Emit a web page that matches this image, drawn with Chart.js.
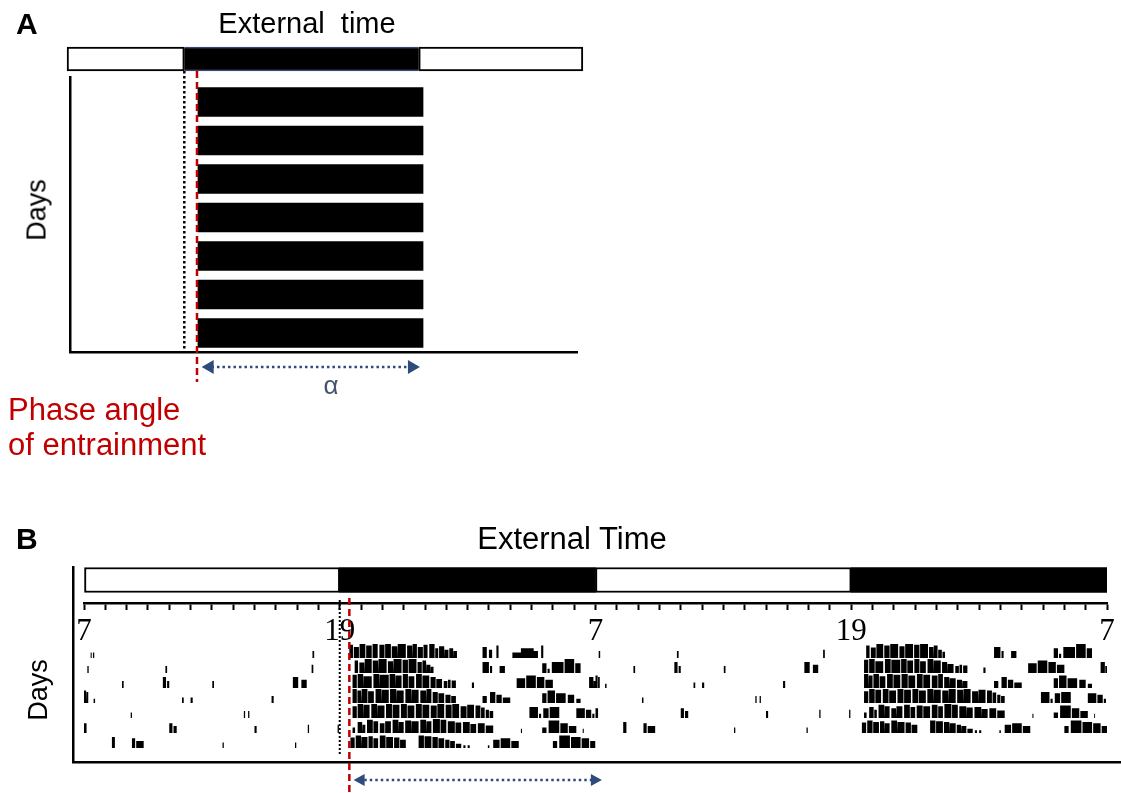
<!DOCTYPE html>
<html><head><meta charset="utf-8">
<script src="https://cdn.jsdelivr.net/npm/chart.js@4.4.0/dist/chart.umd.min.js"></script>
<style>
html,body{margin:0;padding:0;background:#fff;}
#wrap{position:relative;width:1121px;height:793px;overflow:hidden;font-family:"Liberation Sans",Arial,sans-serif;color:#000;}
canvas{position:absolute;left:0;top:0;}
.t{position:absolute;white-space:nowrap;line-height:1;}
.c{transform:translateX(-50%);}
.r{transform:translate(-50%,-50%) rotate(-90deg);}
</style></head><body>
<div id="wrap">
<canvas id="cA" width="1121" height="793"></canvas>
<canvas id="cB1" width="1121" height="793"></canvas>
<canvas id="cB2" width="1121" height="793"></canvas>
<div class="t" style="left:16px;top:9px;font-size:30px;font-weight:bold;">A</div>
<div class="t c" style="left:307px;top:9px;font-size:29px;">External&nbsp; time</div>
<div class="t r" style="left:37px;top:210px;font-size:27px;">Days</div>
<div class="t c" style="left:331px;top:372px;font-size:26px;color:#44546a;">α</div>
<div class="t" style="left:8px;top:394px;font-size:31px;color:#c00000;">Phase angle</div>
<div class="t" style="left:8px;top:429px;font-size:31px;color:#c00000;">of entrainment</div>
<div class="t" style="left:16px;top:524px;font-size:30px;font-weight:bold;">B</div>
<div class="t c" style="left:572px;top:523px;font-size:31px;">External Time</div>
<div class="t r" style="left:38px;top:690px;font-size:27px;">Days</div>
</div>
<script>
// ---------------- Panel A (schematic) ----------------
const daysA   = [1, 2, 3, 4, 5, 6, 7];
const onsetA  = [0.70, 0.70, 0.70, 0.70, 0.70, 0.70, 0.70];     // hours after lights off
const offsetA = [12.22, 12.22, 12.22, 12.22, 12.22, 12.22, 12.22];
const ldEdgesA  = [-6, 0, 12, 20.4];          // light | dark | light
const ldStatesA = ['light', 'dark', 'light'];
const lightsOffA = 0;
const phaseA = 0.65;
const alphaA = [0.89, 12.06];

// ---------------- Panel B (actogram) ----------------
const tickHours  = [0, 12, 24, 36, 48];
const tickLabels = ['7', '19', '7', '19', '7'];
const ldEdgesB  = [0, 12, 24, 36, 48];
const ldStatesB = ['light', 'dark', 'light', 'dark'];
const lightsOffB = 12;
const phaseB = 12.45;
const alphaB = [12.65, 24.3];

// activity bouts per day: [start h, end h, relative height], hours from 7:00
const day1 = [[0.30,0.36,0.4],[0.42,0.48,0.4],[10.72,10.8,0.5],
  [12.45,12.62,0.95],[12.66,12.9,0.8],[12.93,13.2,1],[13.24,13.5,0.9],[13.54,13.78,1],[13.86,14.1,0.95],[14.13,14.4,1],
  [14.44,14.7,0.85],[14.73,15.1,1],[15.16,15.4,0.9],[15.43,15.62,1],[15.66,15.9,0.8],[15.93,16.12,0.95],[16.2,16.45,1],
  [16.48,16.62,0.7],[16.66,16.9,0.85],[16.93,17.1,0.6],[17.14,17.32,0.7],[17.35,17.5,0.5],
  [18.7,18.9,0.8],[19.0,19.15,0.6],[19.35,19.45,0.9],[20.1,20.5,0.4],[20.5,21.1,0.7],[21.1,21.3,0.5],[21.45,21.55,0.9]];
const day2 = [[0.15,0.22,0.5],[3.82,3.9,0.5],[10.68,10.76,0.6],
  [12.7,12.86,0.9],[12.92,13.15,0.75],[13.18,13.5,1],[13.55,13.8,0.9],[13.83,14.2,1],[14.26,14.5,0.85],[14.53,14.9,1],
  [14.95,15.2,0.95],[15.23,15.6,1],[15.65,15.85,0.8],[15.88,16.05,0.9],[16.08,16.25,0.6],[16.28,16.4,0.45],
  [18.7,19.0,0.8],[19.05,19.15,0.5],[19.5,19.75,0.5],
  [21.5,21.7,0.7],[21.75,21.85,0.3],[21.95,22.5,0.8],[22.55,23.0,1],[23.05,23.3,0.7]];
const day3 = [[1.78,1.86,0.5],[3.7,3.85,0.8],[3.9,4.0,0.5],[6.02,6.1,0.5],[9.8,10.05,0.8],[10.2,10.45,0.6],
  [12.6,12.8,0.95],[12.84,13.1,1],[13.13,13.5,0.85],[13.58,13.85,1],[13.88,14.3,0.95],[14.34,14.6,1],[14.63,14.9,0.9],
  [14.96,15.2,1],[15.23,15.5,0.85],[15.58,15.85,1],[15.88,16.2,0.9],[16.26,16.5,0.8],[16.53,16.8,0.65],[16.88,17.05,0.5],
  [17.08,17.2,0.6],[17.25,17.45,0.55],[18.2,18.3,0.4],
  [20.3,20.7,0.7],[20.75,21.2,0.9],[21.25,21.6,0.8],[21.65,22.0,0.6],[23.7,23.9,0.8],[23.92,24.0,0.5]];
const day4 = [[0.0,0.1,0.9],[0.12,0.2,0.8],[0.45,0.52,0.3],[4.6,4.68,0.4],[5.0,5.1,0.4],[8.8,8.9,0.5],
  [12.6,12.8,1],[12.83,13.0,0.9],[13.04,13.3,1],[13.33,13.6,0.85],[13.68,13.95,1],[13.98,14.3,0.95],[14.36,14.65,1],
  [14.68,15.0,0.9],[15.08,15.35,1],[15.38,15.7,0.95],[15.78,16.05,0.9],[16.08,16.3,1],[16.36,16.6,0.8],[16.63,16.9,0.7],
  [16.96,17.2,0.6],[17.23,17.45,0.5],
  [18.7,18.9,0.5],[19.05,19.3,0.8],[19.35,19.6,0.6],[19.65,20.0,0.4],
  [21.5,21.7,0.7],[21.75,22.1,0.9],[22.15,22.6,0.7],[22.7,23.0,0.6],[23.1,23.3,0.3]];
const day5 = [[2.18,2.25,0.4],[7.5,7.56,0.5],[7.7,7.76,0.5],
  [12.6,12.8,0.85],[12.84,13.1,1],[13.13,13.4,0.95],[13.48,13.75,1],[13.78,14.1,0.9],[14.17,14.45,1],[14.48,14.8,0.95],
  [14.87,15.15,1],[15.18,15.5,0.9],[15.57,15.85,1],[15.88,16.2,0.95],[16.27,16.55,0.9],[16.58,16.9,1],[16.97,17.25,0.95],
  [17.28,17.6,1],[17.67,17.95,0.85],[17.98,18.3,0.95],[18.37,18.6,0.9],[18.63,18.8,0.75],[18.85,19.0,0.6],[19.03,19.2,0.5],
  [20.9,21.3,0.8],[21.35,21.45,0.3],[21.55,21.8,0.7],[21.85,22.3,0.8],[23.1,23.5,0.7],[23.55,23.8,0.6],[23.85,23.95,0.3]];
const day6 = [[0.0,0.12,0.7],[4.0,4.15,0.7],[4.2,4.35,0.5],[8.0,8.1,0.5],[10.5,10.56,0.6],[11.9,11.96,0.6],
  [12.6,12.72,0.4],[12.84,13.05,0.8],[13.08,13.2,0.6],[13.28,13.55,0.95],[13.58,13.8,0.85],[13.88,14.1,0.7],[14.13,14.4,0.85],
  [14.48,14.75,0.95],[14.78,15.0,0.8],[15.07,15.35,0.9],[15.38,15.7,0.85],[15.78,16.05,0.95],[16.08,16.3,0.85],[16.37,16.7,1],
  [16.73,17.0,0.95],[17.07,17.4,0.85],[17.43,17.7,0.75],[17.78,18.1,0.8],[18.13,18.4,0.65],[18.48,18.8,0.7],[18.85,19.2,0.55],
  [20.5,20.55,0.3],[21.5,21.7,0.4],[21.8,22.3,0.9],[22.35,22.7,0.7],[22.75,23.1,0.5],[23.4,23.45,0.3]];
const day7 = [[1.3,1.45,0.8],[2.25,2.4,0.7],[2.45,2.8,0.5],[6.5,6.56,0.4],[9.9,9.96,0.4],
  [12.5,12.7,0.75],[12.75,13.0,0.9],[13.03,13.3,0.8],[13.35,13.55,0.85],[13.58,13.8,0.7],[13.88,14.15,0.9],[14.18,14.5,0.8],
  [14.55,14.8,0.75],[14.83,15.1,0.6],[15.7,15.95,0.9],[15.98,16.3,0.85],[16.35,16.6,0.8],[16.63,16.9,0.7],[16.95,17.15,0.6],
  [17.18,17.4,0.5],[17.45,17.7,0.3],[17.8,17.9,0.2],[18.0,18.1,0.2],[18.95,19.02,0.2],
  [19.2,19.5,0.6],[19.55,20.0,0.7],[20.05,20.4,0.5],
  [22.0,22.2,0.5],[22.3,22.8,0.9],[22.85,23.3,0.8],[23.35,23.7,0.7],[23.75,24.0,0.5]];
const day8 = [];
const allDays = [day1, day2, day3, day4, day5, day6, day7, day8];

// ---------------- styling constants ----------------
const NAVY = '#2f4b7c', RED = '#c00000';
const ROW_FILL = 0.93;   // fraction of the row a full-height bout occupies

// arrowheads drawn at the ends of datasets flagged with `arrowHead`
const arrowHeads = {
  id: 'arrowHeads',
  afterDatasetsDraw(chart) {
    const ctx = chart.ctx;
    chart.data.datasets.forEach((ds, i) => {
      if (!ds.arrowHead) return;
      const pts = chart.getDatasetMeta(i).data;
      const ends = [[pts[0], -1], [pts[pts.length - 1], 1]];
      const {len, half, color} = ds.arrowHead;
      ctx.save();
      ctx.fillStyle = color;
      ends.forEach(([p, dir]) => {
        ctx.beginPath();
        ctx.moveTo(p.x, p.y);
        ctx.lineTo(p.x - dir * len, p.y - half);
        ctx.lineTo(p.x - dir * len, p.y + half);
        ctx.closePath();
        ctx.fill();
      });
      ctx.restore();
    });
  }
};

// ================= Chart A =================
const ldDatasetsA = ldStatesA.map((s, i) => ({
  type: 'bar', indexAxis: 'y', grouped: false, clip: false,
  data: [{x: [ldEdgesA[i], ldEdgesA[i + 1]], y: -0.117}],
  barThickness: 24,
  backgroundColor: s === 'dark' ? '#000' : '#fff',
  borderColor: s === 'dark' ? '#34467a' : '#000',
  borderWidth: s === 'dark' ? {top: 1.5, bottom: 1.5, left: 0, right: 0} : 2, borderSkipped: false
}));
new Chart(document.getElementById('cA'), {
  type: 'bar',
  data: {
    datasets: [
      {type: 'line', data: [{x: phaseA, y: 0.194}, {x: phaseA, y: 8.27}], borderColor: RED, borderWidth: 2.5,
       borderDash: [7, 4], pointRadius: 0, clip: false},
      {type: 'line', data: [{x: lightsOffA, y: 0.194}, {x: lightsOffA, y: 7.49}], borderColor: '#000', borderWidth: 2.5,
       borderDash: [2.5, 2.5], pointRadius: 0, clip: false},
      {type: 'line', data: [{x: alphaA[0] + 0.5, y: 7.88}, {x: alphaA[1] - 0.5, y: 7.88}], borderColor: NAVY, borderWidth: 2.5,
       borderDash: [2.5, 3], pointRadius: 0, clip: false},
      {type: 'line', data: [{x: alphaA[0], y: 7.88}, {x: alphaA[1], y: 7.88}], showLine: false, pointRadius: 0,
       clip: false, arrowHead: {len: 12, half: 7, color: NAVY}},
      {type: 'bar', indexAxis: 'y', grouped: false,
       data: daysA.map((d, i) => ({x: [onsetA[i], offsetA[i]], y: d})),
       barThickness: 29, backgroundColor: '#000', borderWidth: 0},
      ...ldDatasetsA
    ]
  },
  options: {
    responsive: false, animation: false, devicePixelRatio: 1,
    layout: {padding: {left: 70, right: 544, top: 77, bottom: 441}},
    plugins: {legend: {display: false}, tooltip: {enabled: false}},
    scales: {
      x: {type: 'linear', offset: false, min: -5.85, max: 20.1, ticks: {display: false},
          grid: {display: false, drawTicks: false, offset: false}, border: {display: true, color: '#000', width: 2.5}},
      y: {type: 'linear', offset: false, reverse: true, min: 0.35, max: 7.493, ticks: {display: false},
          grid: {display: false, drawTicks: false, offset: false}, border: {display: true, color: '#000', width: 2.5}}
    }
  },
  plugins: [arrowHeads]
});

// ================= Chart B1 : LD bar + time axis =================
new Chart(document.getElementById('cB1'), {
  type: 'bar',
  data: {
    labels: ['LD'],
    datasets: ldStatesB.map((s, i) => ({
      data: [[ldEdgesB[i], ldEdgesB[i + 1]]], grouped: false, barThickness: 25,
      backgroundColor: s === 'dark' ? '#000' : '#fff', borderColor: '#000',
      borderWidth: s === 'dark' ? 0 : 2, borderSkipped: false
    }))
  },
  options: {
    indexAxis: 'y', responsive: false, animation: false, devicePixelRatio: 1,
    layout: {padding: {left: 84, right: 14, top: 557, bottom: 144}},
    plugins: {legend: {display: false}, tooltip: {enabled: false}},
    scales: {
      x: {type: 'linear', position: 'bottom', min: 0, max: 48,
          ticks: {stepSize: 1, autoSkip: false, maxRotation: 0, padding: 3, color: '#000',
                  font: {family: '"Liberation Serif", "Times New Roman", serif', size: 31, lineHeight: 1.2},
                  callback: (v) => { const i = tickHours.indexOf(v); return i >= 0 ? tickLabels[i] : ''; }},
          grid: {display: true, drawOnChartArea: false, drawTicks: true, tickLength: 7, tickColor: '#000', tickWidth: 2},
          border: {display: true, color: '#000', width: 2.5}},
      y: {type: 'category', display: false}
    }
  }
});

// ================= Chart B2 : double-plotted actogram =================
function boutPoints(bouts, shift, base) {
  const pts = [];
  bouts.forEach(([s, e, h]) => {
    const top = base - h * ROW_FILL;
    pts.push({x: s + shift, y: base}, {x: s + shift, y: top}, {x: e + shift, y: top}, {x: e + shift, y: base});
  });
  return pts;
}
const rowDatasets = [];
for (let k = 1; k <= 7; k++) {
  const pts = boutPoints(allDays[k - 1], 0, k).concat(boutPoints(allDays[k], 24, k));
  rowDatasets.push({type: 'line', data: pts, borderWidth: 0, borderColor: 'rgba(0,0,0,0)', backgroundColor: '#000',
                    fill: {value: k}, pointRadius: 0, tension: 0});
}
new Chart(document.getElementById('cB2'), {
  type: 'line',
  data: {
    datasets: [
      {data: [{x: phaseB, y: -3.0}, {x: phaseB, y: 10.0}], borderColor: RED, borderWidth: 2.5,
       borderDash: [7, 4], pointRadius: 0, clip: false},
      {data: [{x: lightsOffB, y: -2.87}, {x: lightsOffB, y: 7.46}], borderColor: '#000', borderWidth: 2,
       borderDash: [2, 2], pointRadius: 0, clip: false},
      {data: [{x: alphaB[0] + 0.5, y: 9.13}, {x: alphaB[1] - 0.5, y: 9.13}], borderColor: NAVY, borderWidth: 2.5,
       borderDash: [2.5, 3], pointRadius: 0, clip: false},
      {data: [{x: alphaB[0], y: 9.13}, {x: alphaB[1], y: 9.13}], showLine: false, pointRadius: 0,
       clip: false, arrowHead: {len: 11, half: 6, color: NAVY}},
      ...rowDatasets
    ]
  },
  options: {
    responsive: false, animation: false, devicePixelRatio: 1,
    layout: {padding: {left: 73, right: 1, top: 567, bottom: 31}},
    plugins: {legend: {display: false}, tooltip: {enabled: false}},
    scales: {
      x: {type: 'linear', min: -0.516, max: 48.61, ticks: {display: false},
          grid: {display: false, drawTicks: false}, border: {display: true, color: '#000', width: 2.5}},
      y: {type: 'linear', reverse: true, min: -5.07, max: 7.93, ticks: {display: false},
          grid: {display: false, drawTicks: false}, border: {display: true, color: '#000', width: 2.5}}
    }
  },
  plugins: [arrowHeads]
});
</script>
</body></html>
